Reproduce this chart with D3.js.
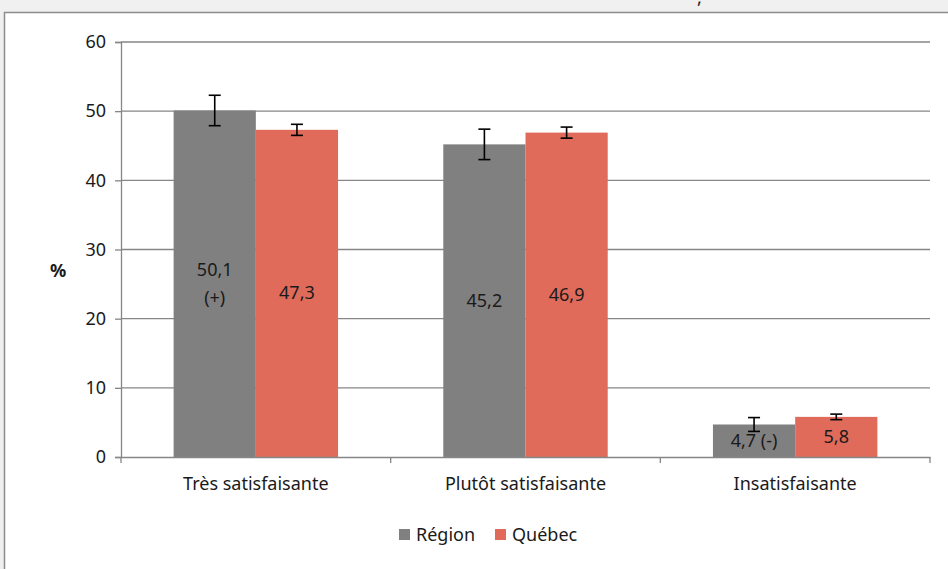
<!DOCTYPE html>
<html><head><meta charset="utf-8">
<script src="https://cdn.jsdelivr.net/npm/d3@7"></script>
<style>
body{margin:0;background:#f0f0f0;overflow:hidden;}
svg{display:block;}
text{font-family:"Noto Sans","Open Sans",sans-serif;fill:#1a1a1a;}
</style></head><body>
<svg id="c" width="948" height="569"></svg>
<script>
const categories = ["Très satisfaisante","Plutôt satisfaisante","Insatisfaisante"];
const seriesNames = ["Région","Québec"];
const regionValues = [50.1, 45.2, 4.7];
const quebecValues = [47.3, 46.9, 5.8];
const regionErr = [2.2, 2.2, 1.0];
const quebecErr = [0.8, 0.8, 0.4];
const regionLabels = [["50,1","(+)"],["45,2"],["4,7 (-)"]];
const quebecLabels = [["47,3"],["46,9"],["5,8"]];
const yTicks = [0,10,20,30,40,50,60];
const colors = ["#808080","#E06B5A"];

(function(){
const FONT = "'Noto Sans','Open Sans',sans-serif";
const FS = 18;
const svg = d3.select("#c");
svg.append("rect").attr("x",4.5).attr("y",12.5).attr("width",960).attr("height",600)
  .attr("fill","#fff").attr("stroke","#8c8c8c").attr("stroke-width",1.5);
svg.append("text").attr("x",697).attr("y",4).attr("font-size",FS).text(",");

const pl=121, pr=930, pt=42, pb=457;
const y = d3.scaleLinear().domain([0,60]).range([pb,pt]);
const x0 = d3.scaleBand().domain(categories).range([pl,pr]).paddingInner(0).paddingOuter(0);
const x1 = d3.scaleBand().domain(seriesNames).range([0,x0.bandwidth()]).paddingOuter(0.64).paddingInner(0);

svg.append("g").selectAll("line").data(yTicks.filter(d=>d>0)).join("line")
  .attr("x1",pl).attr("x2",pr).attr("y1",d=>y(d)).attr("y2",d=>y(d))
  .attr("stroke","#868686").attr("stroke-width",1.3);

const ya = svg.append("g").attr("transform",`translate(${pl},0)`)
  .call(d3.axisLeft(y).tickValues(yTicks).tickSize(6).tickPadding(9));
ya.select(".domain").attr("stroke","#868686").attr("stroke-width",1.3);
ya.selectAll(".tick line").attr("stroke","#868686").attr("stroke-width",1.3);
ya.selectAll(".tick text").attr("font-size",FS).attr("fill","#1a1a1a").attr("font-family",FONT);
svg.append("text").attr("x",58).attr("y",277).attr("font-size",FS).attr("font-weight","bold").attr("text-anchor","middle").text("%");

const data = categories.map((c,i)=>[
  {cat:c,s:"Région",v:regionValues[i],e:regionErr[i],lab:regionLabels[i],col:colors[0]},
  {cat:c,s:"Québec",v:quebecValues[i],e:quebecErr[i],lab:quebecLabels[i],col:colors[1]}
]).flat();

svg.append("g").selectAll("rect").data(data).join("rect")
  .attr("x",d=>x0(d.cat)+x1(d.s)).attr("width",x1.bandwidth())
  .attr("y",d=>y(d.v)).attr("height",d=>y(0)-y(d.v)).attr("fill",d=>d.col);

const xa = svg.append("g").attr("transform",`translate(0,${pb})`)
  .call(d3.axisBottom(x0).tickSize(0).tickPadding(20));
xa.select(".domain").attr("stroke","#868686").attr("stroke-width",1.3);
xa.selectAll(".tick text").attr("font-size",FS).attr("fill","#1a1a1a").attr("font-family",FONT);
const bounds = categories.map(c=>x0(c)).concat([x0(categories[2])+x0.bandwidth()]);
svg.append("g").selectAll("line").data(bounds).join("line")
  .attr("x1",d=>d).attr("x2",d=>d).attr("y1",pb).attr("y2",pb+6)
  .attr("stroke","#868686").attr("stroke-width",1.3);

const eb = svg.append("g").attr("stroke","#000").attr("stroke-width",1.6);
data.forEach(d=>{
  const cx = x0(d.cat)+x1(d.s)+x1.bandwidth()/2;
  eb.append("line").attr("x1",cx).attr("x2",cx).attr("y1",y(d.v+d.e)).attr("y2",y(d.v-d.e));
  [d.v+d.e,d.v-d.e].forEach(t=>eb.append("line").attr("x1",cx-6).attr("x2",cx+6).attr("y1",y(t)).attr("y2",y(t)));
});

data.forEach(d=>{
  const cx = x0(d.cat)+x1(d.s)+x1.bandwidth()/2;
  const mid = (y(d.v)+y(0))/2;
  const n = d.lab.length, lh=28;
  d.lab.forEach((t,k)=>{
    svg.append("text").attr("x",cx).attr("y",mid+(k-(n-1)/2)*lh+6)
      .attr("text-anchor","middle").attr("font-size",FS).text(t);
  });
});

const lg = svg.append("g");
const legX = [399,495];
seriesNames.forEach((s,i)=>{
  lg.append("rect").attr("x",legX[i]).attr("y",529).attr("width",11).attr("height",11).attr("fill",colors[i]);
  lg.append("text").attr("x",legX[i]+17).attr("y",541).attr("font-size",FS).text(s);
});
})();
</script></body></html>
